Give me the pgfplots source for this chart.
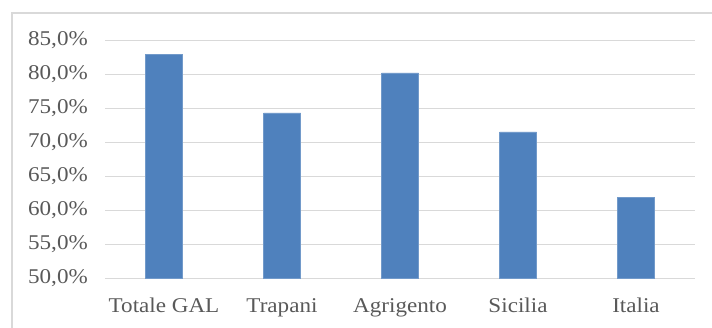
\documentclass[border=0pt]{standalone}
\usepackage{pgfplots}
\pgfplotsset{compat=1.18}
\usepackage{fontspec}
\setmainfont{Liberation Serif}[FakeStretch=1.1]
\definecolor{barblue}{HTML}{4F81BD}
\definecolor{txtgray}{HTML}{595959}
\definecolor{gridgray}{HTML}{D9D9D9}
\begin{document}
\begin{tikzpicture}
\useasboundingbox (0pt,0pt) rectangle (712pt,328pt);
\draw[gridgray, line width=1.2pt] (12pt,0pt) -- (12pt,315pt) -- (712pt,315pt);
\begin{axis}[
  at={(105pt,50pt)}, anchor=south west,
  scale only axis, width=590pt, height=237.7pt,
  xmin=-0.5, xmax=4.5, ymin=50, ymax=85,
  xtick={0,1,2,3,4},
  xticklabels={Totale GAL,Trapani,Agrigento,Sicilia,Italia},
  ytick={50,55,60,65,70,75,80,85},
  yticklabels={{50,0\%},{55,0\%},{60,0\%},{65,0\%},{70,0\%},{75,0\%},{80,0\%},{85,0\%}},
  axis line style={draw=none},
  major tick length=0pt,
  ymajorgrids, major grid style={gridgray, line width=0.9pt},
  tick label style={font=\fontsize{21}{24}\selectfont, text=txtgray, inner sep=0pt},
  yticklabel style={anchor=east, xshift=-17pt},
  xticklabel style={anchor=north, yshift=-20pt},
  clip=false,
]
\addplot[ybar, bar width=37pt, fill=barblue, draw=barblue!80!white] coordinates {
  (0,82.9) (1,74.3) (2,80.2) (3,71.5) (4,61.9)
};
\end{axis}
\end{tikzpicture}
\end{document}
